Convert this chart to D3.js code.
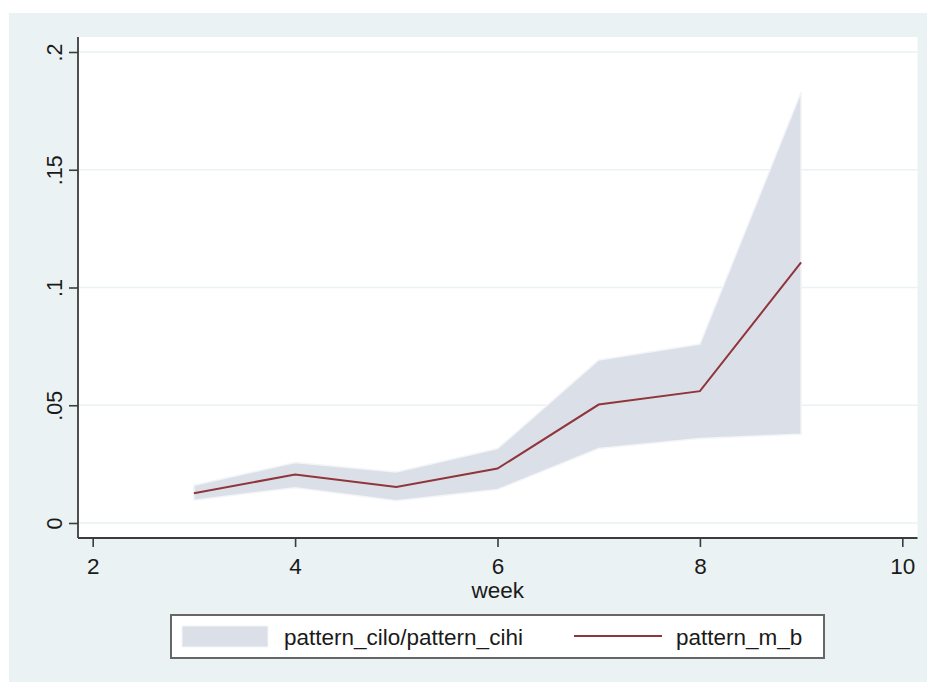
<!DOCTYPE html>
<html>
<head>
<meta charset="utf-8">
<script src="https://cdn.jsdelivr.net/npm/d3@7"></script>
<style>
  html, body { margin: 0; padding: 0; background: #ffffff; }
  svg { display: block; }
  text { font-family: Arial, "Liberation Sans", Helvetica, sans-serif; fill: #1a1a1a; }
</style>
</head>
<body>
<svg id="chart" width="927" height="682"></svg>
<script>
// Weekly estimate with its confidence band
const weeks = [3, 4, 5, 6, 7, 8, 9];
const patternMB = [0.0126, 0.0206, 0.0153, 0.0231, 0.0503, 0.0560, 0.1107];
const patternCilo = [0.0097, 0.0150, 0.0094, 0.0142, 0.0316, 0.0359, 0.0377];
const patternCihi = [0.0160, 0.0257, 0.0217, 0.0316, 0.0692, 0.0760, 0.1830];

const xTicks = [2, 4, 6, 8, 10];
const yTicks = [0, 0.05, 0.1, 0.15, 0.2];
const yTickLabels = ["0", ".05", ".1", ".15", ".2"];
const xTitle = "week";
const legendLabels = ["pattern_cilo/pattern_cihi", "pattern_m_b"];

const rows = weeks.map((w, i) => ({ w, m: patternMB[i], lo: patternCilo[i], hi: patternCihi[i] }));

const svg = d3.select("#chart");
const bg = "#eaf2f3";
const axisColor = "#3c3c3c";
const bandColor = "#dbe0e8";
const lineColor = "#90353b";
const fontSize = 22.5;

// graph region
svg.append("rect").attr("x", 9).attr("y", 13).attr("width", 918).attr("height", 669).attr("fill", bg);

// plot region
const plot = { left: 78, right: 917.5, top: 37, bottom: 538 };
svg.append("rect")
  .attr("x", plot.left).attr("y", plot.top)
  .attr("width", plot.right - plot.left).attr("height", plot.bottom - plot.top)
  .attr("fill", "#ffffff");

const x = d3.scaleLinear().domain([2, 10]).range([92.7, 902.3]);
const y = d3.scaleLinear().domain([0, 0.2]).range([523, 52]);

// horizontal grid
svg.append("g").selectAll("line").data(yTicks).join("line")
  .attr("x1", plot.left).attr("x2", plot.right)
  .attr("y1", d => y(d)).attr("y2", d => y(d))
  .attr("stroke", bg).attr("stroke-width", 1.6);

// confidence band
const area = d3.area().x(d => x(d.w)).y0(d => y(d.lo)).y1(d => y(d.hi));
svg.append("path").datum(rows)
  .attr("d", area)
  .attr("fill", bandColor)
  .attr("stroke", "#f3f5f8").attr("stroke-width", 1.5).attr("stroke-linejoin", "miter");

// estimate line
const line = d3.line().x(d => x(d.w)).y(d => y(d.m));
svg.append("path").datum(rows)
  .attr("d", line)
  .attr("fill", "none")
  .attr("stroke", lineColor).attr("stroke-width", 2);

// y axis
const yAxis = d3.axisLeft(y).tickValues(yTicks).tickSize(9).tickPadding(0)
  .tickFormat((d, i) => yTickLabels[i]);
const gy = svg.append("g").attr("transform", `translate(${plot.left},0)`).call(yAxis);
gy.select(".domain").remove();
gy.selectAll(".tick line").attr("stroke", axisColor).attr("stroke-width", 1.6);
gy.selectAll(".tick text")
  .attr("x", 0).attr("y", 0).attr("dy", null)
  .attr("text-anchor", "middle")
  .attr("transform", `translate(${62 - plot.left},0) rotate(-90)`)
  .attr("font-size", 21.5)
  .style("font-family", "Arial, 'Liberation Sans', sans-serif")
  .attr("fill", "#1a1a1a");
svg.append("line")
  .attr("x1", plot.left).attr("x2", plot.left)
  .attr("y1", plot.top).attr("y2", plot.bottom)
  .attr("stroke", axisColor).attr("stroke-width", 1.8);

// x axis
const xAxis = d3.axisBottom(x).tickValues(xTicks).tickSize(9).tickPadding(0);
const gx = svg.append("g").attr("transform", `translate(0,${plot.bottom})`).call(xAxis);
gx.select(".domain").remove();
gx.selectAll(".tick line").attr("stroke", axisColor).attr("stroke-width", 1.6);
gx.selectAll(".tick text")
  .attr("y", 36).attr("dy", null)
  .attr("font-size", fontSize)
  .style("font-family", "Arial, 'Liberation Sans', sans-serif")
  .attr("fill", "#1a1a1a");
svg.append("line")
  .attr("x1", plot.left).attr("x2", plot.right)
  .attr("y1", plot.bottom).attr("y2", plot.bottom)
  .attr("stroke", axisColor).attr("stroke-width", 1.8);

// x axis title
svg.append("text")
  .attr("x", (plot.left + plot.right) / 2).attr("y", 598)
  .attr("text-anchor", "middle").attr("font-size", fontSize)
  .text(xTitle);

// legend
const lg = svg.append("g");
lg.append("rect")
  .attr("x", 171).attr("y", 615).attr("width", 653).attr("height", 43)
  .attr("fill", "#ffffff").attr("stroke", "#666666").attr("stroke-width", 2);
lg.append("rect")
  .attr("x", 182).attr("y", 626).attr("width", 86).attr("height", 21)
  .attr("fill", bandColor).attr("stroke", "#f3f5f8").attr("stroke-width", 1);
lg.append("text").attr("x", 284).attr("y", 645).attr("font-size", fontSize).text(legendLabels[0]);
lg.append("line")
  .attr("x1", 574).attr("x2", 662).attr("y1", 636).attr("y2", 636)
  .attr("stroke", lineColor).attr("stroke-width", 2);
lg.append("text").attr("x", 676).attr("y", 645).attr("font-size", fontSize).text(legendLabels[1]);
</script>
</body>
</html>
